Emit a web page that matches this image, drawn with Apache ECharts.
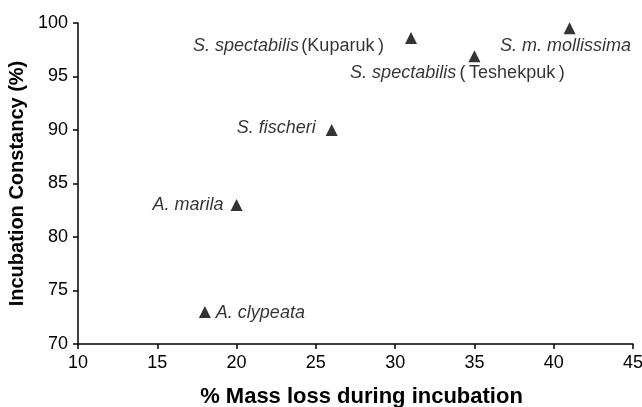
<!DOCTYPE html>
<html><head><meta charset="utf-8">
<script src="https://cdn.jsdelivr.net/npm/echarts@6/dist/echarts.min.js"></script>
<style>html,body{margin:0;padding:0;background:#fff}#c{width:642px;height:407px}</style>
</head><body><div id="c"></div>
<script>
const species = ['A. clypeata','A. marila','S. fischeri','S. spectabilis','S. spectabilis','S. m. mollissima'];
const sites = ['','','','Kuparuk','Teshekpuk',''];
const massLoss = [18, 20, 26, 31, 35, 41];
const constancy = [73, 83, 90, 98.6, 96.9, 99.5];
const xTicks = [10,15,20,25,30,35,40,45];
const yTicks = [70,75,80,85,90,95,100];

const labelPos = [
  {position:'right', offset:[0,1]},
  {position:'left', offset:[-2,0]},
  {position:'left', offset:[-5,-2]},
  {position:'left', offset:[-16,8]},
  {position:'bottom', offset:[-17,-3]},
  {position:'bottom', offset:[-4,-2]}
];

const FF = 'Liberation Sans, Arial, sans-serif';
const TS = '\u2009';
function fmt(i){
  if(!sites[i]) return '{it|'+species[i]+'}';
  if(i===4) return '{it|'+species[i]+'} {n|('+TS+sites[i]+TS+')}';
  return '{it|'+species[i]+'}'+TS+'{n|('+sites[i]+TS+')}';
}
const data = massLoss.map((x,i)=>({
  value:[x, constancy[i]],
  label:{
    show:true,
    position:labelPos[i].position,
    offset:labelPos[i].offset,
    formatter: fmt(i)
  }
}));

const chart = echarts.init(document.getElementById('c'));
const axisCommon = {
  axisLine:{show:true, lineStyle:{color:'#000', width:1.5}},
  axisTick:{show:true, length:5, lineStyle:{color:'#000', width:1.5}},
  splitLine:{show:false},
  axisLabel:{color:'#000', fontSize:18, fontFamily:FF},
  nameTextStyle:{color:'#000', fontSize:20, fontWeight:'bold', fontFamily:FF}
};
chart.setOption({
  animation:false,
  grid:{left:78, right:9, top:23, bottom:63, outerBoundsMode:'none', containLabel:false},
  xAxis:Object.assign({}, axisCommon, {
    type:'value', min:10, max:45, interval:5,
    name:'% Mass loss during incubation', nameLocation:'middle', nameGap:42,
    nameTextStyle:{color:'#000', fontSize:22, fontWeight:'bold', fontFamily:FF, padding:[0,0,0,12]},
    axisLabel:Object.assign({}, axisCommon.axisLabel, {margin:10, formatter:v=>xTicks.includes(v)?String(v):''})
  }),
  yAxis:Object.assign({}, axisCommon, {
    type:'value', min:70, max:100, interval:5,
    name:'Incubation Constancy (%)', nameLocation:'middle', nameGap:45,
    axisLabel:Object.assign({}, axisCommon.axisLabel, {margin:10, formatter:v=>yTicks.includes(v)?String(v):''})
  }),
  series:[{
    type:'scatter',
    symbol:'triangle',
    symbolSize:12,
    itemStyle:{color:'#000'},
    label:{
      color:'#000',
      rich:{
        it:{fontStyle:'italic', fontSize:18, color:'#000', fontFamily:FF},
        n:{fontSize:18, color:'#000', fontFamily:FF}
      }
    },
    data:data
  }]
});
</script></body></html>
